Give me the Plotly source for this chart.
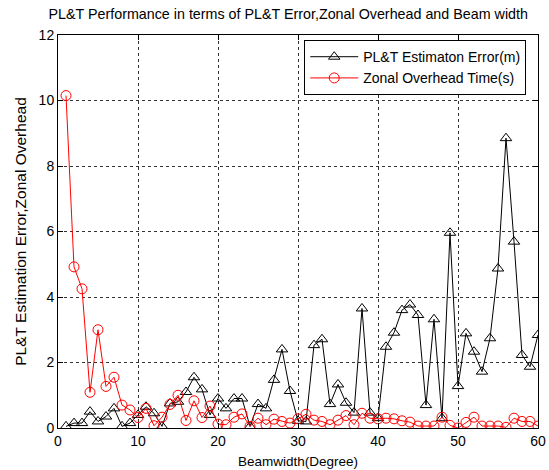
import plotly.graph_objects as go

# Beamwidth in degrees
beamwidth = list(range(1, 61))

# PL&T estimation error (m)
plt_error = [0.05, 0.15, 0.15, 0.5, 0.2, 0.35, 0.6, 0.05, 0.15, 0.4,
             0.65, 0.45, 0.05, 0.75, 0.8, 1.1, 1.55, 1.18, 0.4, 0.9,
             0.6, 0.9, 0.9, 0.05, 0.73, 0.6, 1.47, 2.4, 1.13, 0.22,
             0.2, 2.53, 2.71, 0.73, 1.33, 0.77, 0.47, 3.65, 0.47, 0.3,
             2.48, 2.91, 3.6, 3.77, 3.45, 0.7, 3.32, 0.3, 5.96, 1.28,
             2.89, 2.33, 1.72, 2.74, 4.87, 8.85, 5.69, 2.23, 1.87, 2.84]

# Zonal overhead time (s)
zonal_overhead = [10.15, 4.92, 4.25, 1.09, 3.0, 1.27, 1.55, 0.7, 0.55, 0.32,
                  0.6, 0.07, 0.33, 0.72, 1.0, 0.23, 0.83, 0.32, 0.67, 0.12,
                  0.1, 0.33, 0.43, 0.05, 0.3, 0.1, 0.27, 0.2, 0.15, 0.28,
                  0.42, 0.24, 0.2, 0.1, 0.24, 0.38, 0.1, 0.45, 0.3, 0.28,
                  0.3, 0.28, 0.22, 0.18, 0.06, 0.06, 0.06, 0.33, 0.08, 0.0,
                  0.17, 0.33, 0.06, 0.06, 0.06, 0.02, 0.3, 0.2, 0.2, 0.06]

x_ticks = [0, 10, 20, 30, 40, 50, 60]
y_ticks = [0, 2, 4, 6, 8, 10, 12]

FONT = "Arial, Liberation Sans, sans-serif"

fig = go.Figure()
fig.add_trace(go.Scatter(
    x=beamwidth, y=plt_error, mode="lines+markers",
    name="PL&T Estimaton Error(m)",
    line=dict(color="black", width=1),
    marker=dict(symbol="triangle-up-open", size=10, color="black",
                line=dict(width=1)),
))
fig.add_trace(go.Scatter(
    x=beamwidth, y=zonal_overhead, mode="lines+markers",
    name="Zonal Overhead Time(s)",
    line=dict(color="red", width=1),
    marker=dict(symbol="circle-open", size=10, color="red",
                line=dict(width=1)),
))

axis_common = dict(
    showline=True, linecolor="black", linewidth=1, mirror="allticks",
    ticks="inside", ticklen=5, tickcolor="black", automargin=False,
    showgrid=True, gridcolor="rgba(0,0,0,0.8)", gridwidth=1, griddash="dot",
    zeroline=False, tickfont=dict(family=FONT, size=14, color="black"),
)

fig.update_layout(
    width=549, height=470,
    margin=dict(l=58, r=11, t=35, b=42),
    paper_bgcolor="white", plot_bgcolor="white",
    font=dict(family=FONT, size=12, color="black"),
    title=dict(text="PL&T Performance in terms of PL&T Error,Zonal Overhead and Beam width",
               x=0.525, xanchor="center", y=0.97, yanchor="middle",
               font=dict(family=FONT, size=14.3, color="black")),
    xaxis=dict(range=[0, 60], tickvals=x_ticks,
               title=dict(text="Beamwidth(Degree)", standoff=8,
                          font=dict(family=FONT, size=13.5)),
               **axis_common),
    yaxis=dict(range=[0, 12], tickvals=y_ticks,
               title=dict(text="PL&T Estimation Error,Zonal Overhead", standoff=8,
                          font=dict(family=FONT, size=15.5)),
               **axis_common),
    legend=dict(x=0.513, y=0.987, xanchor="left", yanchor="top",
                bgcolor="white", bordercolor="black", borderwidth=1,
                itemwidth=48,
                font=dict(family=FONT, size=14), tracegroupgap=0),
    showlegend=True,
)

fig.write_html("out.html")
